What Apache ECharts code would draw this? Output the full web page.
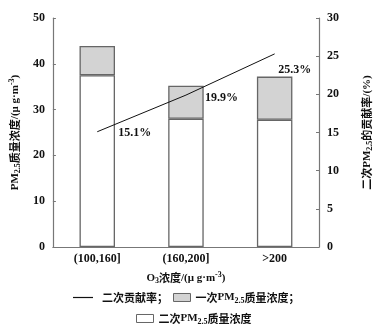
<!DOCTYPE html>
<html><head><meta charset="utf-8">
<script src="https://cdn.jsdelivr.net/npm/echarts@6/dist/echarts.min.js"></script>
<style>html,body{margin:0;padding:0;background:#fff}#c{width:382px;height:324px}</style>
</head><body><div id="c"></div>
<script>
const categories = ['(100,160]', '(160,200]', '>200'];
const secondaryPM = [37.5, 28.0, 27.8];   // 二次PM2.5 (lower, white)
const primaryPM = [6.4, 7.2, 9.4];       // 一次PM2.5 (upper, gray)
const contribution = [15.1, 19.9, 25.3]; // 二次贡献率 (%)
const leftTicks = [0, 50, 10];
const rightTicks = [0, 30, 5];

const FONT = '"Liberation Serif","Noto Sans CJK SC",serif';
const CJK = '"Noto Sans CJK SC","Liberation Serif",serif';
const richBase = {
  t: {fontFamily: FONT, fontWeight: 'bold', fontSize: 11, color: '#111'},
  c: {fontFamily: CJK, fontWeight: 'bold', fontSize: 11, color: '#111'},
  sub: {fontFamily: FONT, fontWeight: 'bold', fontSize: 8, color: '#111', padding: [6, 0, 0, 0]},
  sup: {fontFamily: FONT, fontWeight: 'bold', fontSize: 8, color: '#111', padding: [0, 0, 6, 0]}
};

const chart = echarts.init(document.getElementById('c'));
const legendText = {
  '二次贡献率': '{c|二次贡献率；}',
  '一次PM2.5质量浓度': '{c|一次}{t|PM}{sub|2.5}{c|质量浓度；}',
  '二次PM2.5质量浓度': '{c|二次}{t|PM}{sub|2.5}{c|质量浓度}'
};
const legendCommon = {
  formatter: n => legendText[n],
  textStyle: {rich: richBase, padding: [0, 0, 0, 0]},
  itemGap: 4, padding: 0
};
const labelOffsets = [[16, 1], [14, 3], [20, 5]];
chart.setOption({
  animation: false,
  grid: {left: 48, right: 50, top: 18, bottom: 77},
  xAxis: {
    type: 'category', data: categories,
    axisLine: {lineStyle: {color: '#777', width: 1.2}},
    axisTick: {show: true, alignWithLabel: true, inside: true, length: 4, lineStyle: {color: '#777'}},
    axisLabel: {fontFamily: FONT, fontWeight: 'bold', fontSize: 12, color: '#111', margin: 6},
    name: '{t|O}{sub|3}{c|浓度}{t|/(μ g·m}{sup|-3}{t|)}',
    nameLocation: 'middle', nameGap: 24,
    nameTextStyle: {rich: richBase}
  },
  yAxis: [{
    type: 'value', min: leftTicks[0], max: leftTicks[1], interval: leftTicks[2],
    axisLine: {show: true, lineStyle: {color: '#777', width: 1.2}},
    axisTick: {show: true, inside: true, length: 3, lineStyle: {color: '#777'}},
    splitLine: {show: false},
    axisLabel: {fontFamily: FONT, fontWeight: 'bold', fontSize: 12, color: '#111', margin: 8},
    name: '{t|PM}{sub|2.5}{c|质量浓度}{t|/(μ g·m}{sup|-3}{t|)}',
    nameLocation: 'middle', nameGap: 28, nameRotate: 90,
    nameTextStyle: {rich: richBase}
  }, {
    type: 'value', min: rightTicks[0], max: rightTicks[1], interval: rightTicks[2],
    axisLine: {show: true, lineStyle: {color: '#777', width: 1.2}},
    axisTick: {show: true, inside: true, length: 3, lineStyle: {color: '#777'}},
    splitLine: {show: false},
    axisLabel: {fontFamily: FONT, fontWeight: 'bold', fontSize: 12, color: '#111', margin: 8},
    name: '{c|二次}{t|PM}{sub|2.5}{c|的贡献率}{t|/(%)}',
    nameLocation: 'middle', nameGap: 41, nameRotate: 90,
    nameTextStyle: {rich: richBase}
  }],
  legend: [
    Object.assign({top: 292, left: 73, itemWidth: 20, itemHeight: 1.2, icon: 'rect',
      data: [{name: '二次贡献率', itemStyle: {color: '#111'}}]}, legendCommon, {itemGap: 4, textStyle: {rich: richBase, padding: [0, 0, 0, 4]}}),
    Object.assign({top: 292, left: 173, itemWidth: 17, itemHeight: 8, icon: 'rect',
      data: [{name: '一次PM2.5质量浓度', itemStyle: {color: '#d3d3d3', borderColor: '#666', borderWidth: 1}}]}, legendCommon),
    Object.assign({top: 313, left: 136, itemWidth: 17, itemHeight: 8, icon: 'rect',
      data: [{name: '二次PM2.5质量浓度', itemStyle: {color: '#fff', borderColor: '#666', borderWidth: 1}}]}, legendCommon)
  ],
  series: [{
    name: '二次PM2.5质量浓度', type: 'bar', stack: 'pm', data: secondaryPM, barWidth: '40%',
    itemStyle: {color: '#ffffff', borderColor: '#666', borderWidth: 1.3}
  }, {
    name: '一次PM2.5质量浓度', type: 'bar', stack: 'pm', data: primaryPM, barWidth: '40%',
    itemStyle: {color: '#d3d3d3', borderColor: '#666', borderWidth: 1.3}
  }, {
    name: '二次贡献率', type: 'line', yAxisIndex: 1, showSymbol: true, symbol: 'circle', symbolSize: 0.1,
    lineStyle: {color: '#111', width: 1},
    itemStyle: {color: '#111'},
    data: contribution.map((v, i) => ({
      value: v,
      label: {
        show: true, formatter: '{c}%',
        fontFamily: FONT, fontWeight: 'bold', fontSize: 12, color: '#111',
        position: i === 2 ? 'bottom' : 'right',
        offset: labelOffsets[i]
      }
    }))
  }]
});
</script></body></html>
